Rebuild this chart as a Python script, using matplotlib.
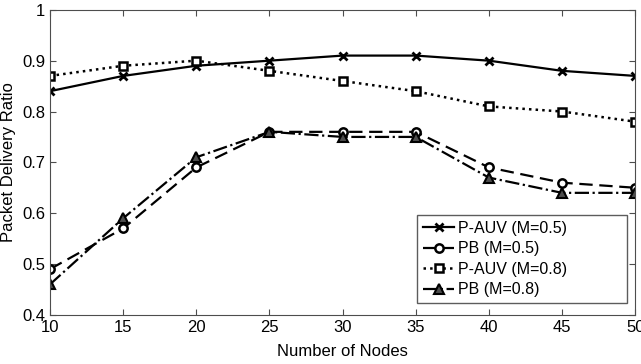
import matplotlib.pyplot as plt
import numpy as np

plt.rcParams['font.family'] = ['Liberation Sans', 'DejaVu Sans']

nodes = [10, 15, 20, 25, 30, 35, 40, 45, 50]
pauv_05 = [0.84, 0.87, 0.89, 0.90, 0.91, 0.91, 0.90, 0.88, 0.87]
pb_05 = [0.49, 0.57, 0.69, 0.76, 0.76, 0.76, 0.69, 0.66, 0.65]
pauv_08 = [0.87, 0.89, 0.90, 0.88, 0.86, 0.84, 0.81, 0.80, 0.78]
pb_08 = [0.46, 0.59, 0.71, 0.76, 0.75, 0.75, 0.67, 0.64, 0.64]

fig = plt.figure(figsize=(6.41, 3.64), dpi=100)
ax = fig.add_axes([0.078, 0.135, 0.913, 0.838])

ax.plot(nodes, pauv_05, 'k-x', lw=1.6, ms=6, mew=2, label='P-AUV (M=0.5)')
ax.plot(nodes, pb_05, 'k--o', lw=1.6, ms=6, mew=1.8, mfc='white', label='PB (M=0.5)', dashes=(6, 3))
ax.plot(nodes, pauv_08, 'k:s', lw=1.8, ms=6, mew=1.8, mfc='white', label='P-AUV (M=0.8)')
ax.plot(nodes, pb_08, 'k-.^', lw=1.6, ms=7, mew=1.5, mfc='0.3', label='PB (M=0.8)')

ax.set_xlim(10, 50)
ax.set_ylim(0.4, 1)
ax.set_xticks(np.arange(10, 51, 5))
ax.set_yticks([0.4, 0.5, 0.6, 0.7, 0.8, 0.9, 1])
ax.set_yticklabels(['0.4', '0.5', '0.6', '0.7', '0.8', '0.9', '1'])
ax.tick_params(direction='in', top=True, right=True, labelsize=12, length=4, color='0.3')
for s in ax.spines.values():
    s.set_color('0.3')
ax.set_xlabel('Number of Nodes', fontsize=12, labelpad=7)
ax.set_ylabel('Packet Delivery Ratio', fontsize=12, labelpad=4)

# legend box stretched to a fixed width, like the MATLAB default
leg = ax.legend(loc='lower left', mode='expand', bbox_to_anchor=(0.627, 0.039, 0.359, 0.28),
                borderaxespad=0, fontsize=11.5, fancybox=False, edgecolor='0.2',
                handlelength=2.0, handletextpad=0.2, borderpad=0.35, labelspacing=0.35)
leg.get_frame().set_linewidth(1.0)

fig.savefig('out.png', dpi=100)
